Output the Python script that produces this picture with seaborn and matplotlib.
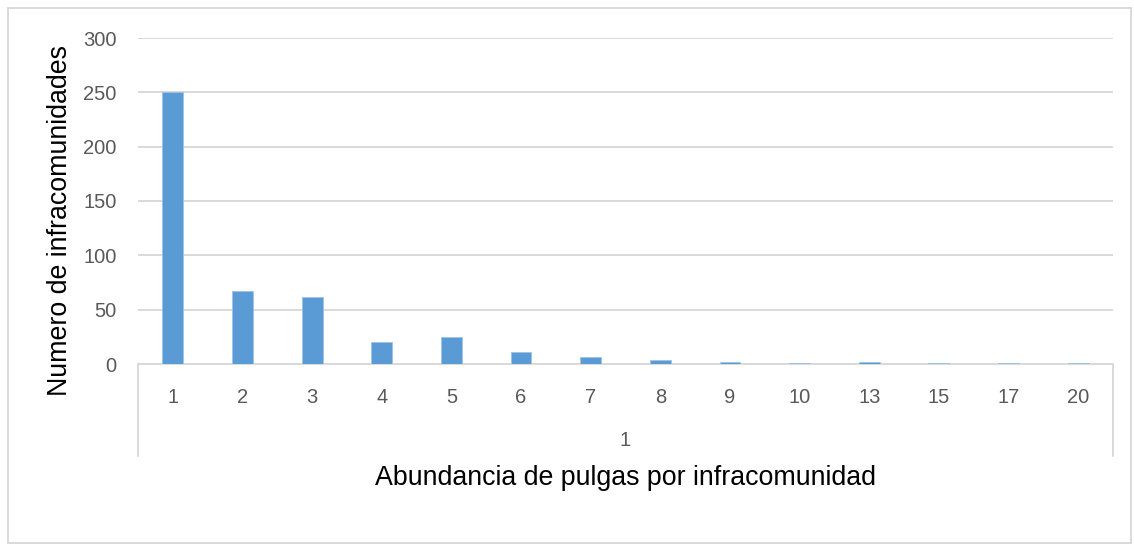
import matplotlib
matplotlib.use("Agg")
import matplotlib.pyplot as plt
from matplotlib.patches import FancyBboxPatch
from matplotlib.lines import Line2D
import seaborn as sns
import pandas as pd

# Flea abundance per infracommunity and number of infracommunities
abundance = ["1", "2", "3", "4", "5", "6", "7", "8", "9", "10", "13", "15", "17", "20"]
n_infracom = [250, 67, 62, 20, 25, 11, 6, 4, 2, 1, 2, 1, 1, 1]
group_label = "1"
x_title = "Abundancia de pulgas por infracomunidad"
y_title = "Numero de infracomunidades"
y_ticks = [0, 50, 100, 150, 200, 250, 300]

df = pd.DataFrame({"abundancia": abundance, "n": n_infracom})

sns.set_theme(style="white")
plt.rcParams["font.family"] = ["Liberation Sans", "DejaVu Sans"]

W, H = 1134, 549
fig = plt.figure(figsize=(W / 100, H / 100), dpi=100)
ax = fig.add_axes([138 / W, 1 - 364 / H, (1113 - 138) / W, (364 - 38) / H])

sns.barplot(data=df, x="abundancia", y="n", order=abundance, color="#5b9bd5",
            width=0.30, saturation=1, edgecolor="#9dc3e6", linewidth=0.6, ax=ax,
            zorder=3)

ax.set_xlim(-0.5, len(abundance) - 0.5)
ax.set_ylim(0, 300)
ax.set_yticks(y_ticks)
ax.set_yticklabels([str(t) for t in y_ticks])
ax.grid(axis="y", color="#d9d9d9", linewidth=1.4, zorder=0)
ax.set_axisbelow(True)
for s in ["top", "right", "left"]:
    ax.spines[s].set_visible(False)
ax.spines["bottom"].set_color("#d9d9d9")
ax.spines["bottom"].set_linewidth(1.4)
ax.tick_params(axis="both", length=0, colors="#595959", labelsize=14.5)
ax.tick_params(axis="x", pad=17)
ax.tick_params(axis="y", pad=15.5)
ax.set_xlabel("")
ax.set_ylabel(y_title, fontsize=19.3, color="black")
ax.yaxis.set_label_coords(-0.067, 0.44)

# Second-level category band under the axis
for xp in (138, 1113):
    fig.add_artist(Line2D([xp / W, xp / W], [1 - 364 / H, 1 - 456 / H],
                          color="#d9d9d9", linewidth=1.4))
fig.text((138 + 1113) / 2 / W, 1 - 440 / H, group_label, ha="center", va="center",
         fontsize=14.5, color="#595959")
fig.text((138 + 1113) / 2 / W, 1 - 478 / H, x_title, ha="center", va="center",
         fontsize=19.3, color="black")

# Chart border
fig.add_artist(FancyBboxPatch((8 / W, 6 / H), (1131 - 8) / W, (541 - 6) / H,
                              boxstyle="square,pad=0", transform=fig.transFigure,
                              facecolor="none", edgecolor="#d9d9d9", linewidth=1.4))

fig.savefig("out.png", dpi=100)
